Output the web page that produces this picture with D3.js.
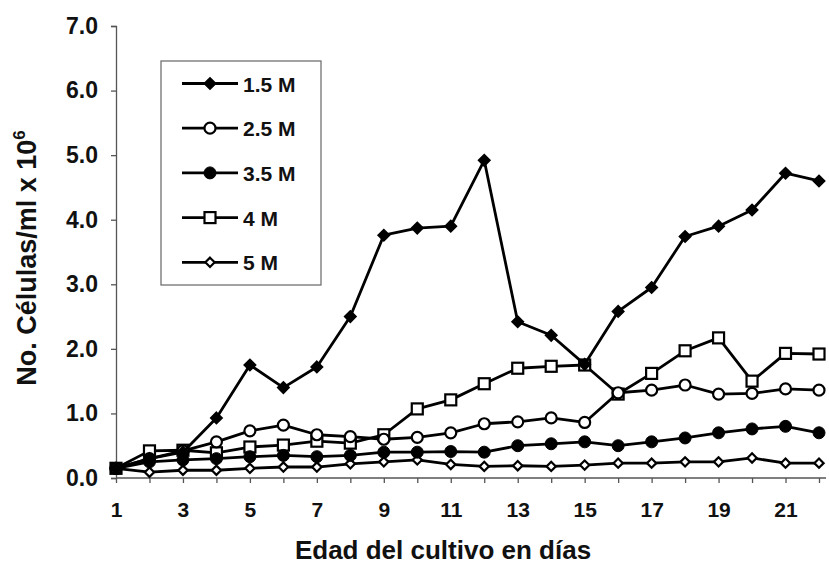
<!DOCTYPE html>
<html>
<head>
<meta charset="utf-8">
<script src="https://cdn.jsdelivr.net/npm/d3@7"></script>
<style>
  body { margin: 0; background: #fff; }
  svg { font-family: "Liberation Sans", Arial, sans-serif; }
</style>
</head>
<body>
<svg id="chart"></svg>
<script>
var width = 829;
var height = 567;
var margin = { top: 26, right: 3, bottom: 89, left: 116 };

// days of culture
var days = d3.range(1, 23);
var xTickLabels = [1, 3, 5, 7, 9, 11, 13, 15, 17, 19, 21];
var yTickLabels = [0, 1, 2, 3, 4, 5, 6, 7];

var seriesNames = ["1.5 M", "2.5 M", "3.5 M", "4 M", "5 M"];

// cells/ml x 10^6
var m15 = [0.15, 0.30, 0.40, 0.93, 1.75, 1.40, 1.72, 2.50, 3.76, 3.87, 3.90, 4.92, 2.42, 2.21, 1.76, 2.58, 2.95, 3.74, 3.90, 4.15, 4.72, 4.60];
var m25 = [0.15, 0.30, 0.42, 0.56, 0.73, 0.82, 0.67, 0.64, 0.60, 0.63, 0.70, 0.84, 0.87, 0.93, 0.86, 1.32, 1.36, 1.44, 1.30, 1.31, 1.38, 1.36];
var m35 = [0.15, 0.25, 0.28, 0.30, 0.33, 0.35, 0.33, 0.35, 0.40, 0.40, 0.41, 0.40, 0.50, 0.53, 0.56, 0.50, 0.56, 0.62, 0.70, 0.76, 0.80, 0.70];
var m4 = [0.15, 0.42, 0.43, 0.39, 0.48, 0.51, 0.57, 0.54, 0.67, 1.07, 1.21, 1.46, 1.70, 1.73, 1.75, 1.30, 1.62, 1.97, 2.17, 1.50, 1.93, 1.92];
var m5 = [0.15, 0.09, 0.12, 0.12, 0.15, 0.17, 0.17, 0.22, 0.25, 0.28, 0.21, 0.18, 0.19, 0.18, 0.20, 0.23, 0.23, 0.25, 0.25, 0.31, 0.23, 0.23];

var seriesValues = [m15, m25, m35, m4, m5];

var svg = d3.select("#chart")
  .attr("width", width)
  .attr("height", height);

var x = d3.scaleLinear()
  .domain([1, 22])
  .range([margin.left, width - margin.right - 7]);

var y = d3.scaleLinear()
  .domain([0, 7])
  .range([height - margin.bottom, margin.top]);

var plotRight = width - margin.right;

// y axis
var yAxis = d3.axisLeft(y)
  .tickValues(yTickLabels)
  .tickSize(5)
  .tickPadding(13)
  .tickFormat(d3.format(".1f"));

var gy = svg.append("g")
  .attr("transform", "translate(" + margin.left + ",0)")
  .call(yAxis);

// x axis
var xAxis = d3.axisBottom(x)
  .tickValues(days)
  .tickSize(5)
  .tickPadding(19)
  .tickFormat(function(d) {
    return xTickLabels.indexOf(d) >= 0 ? d : "";
  });

var gx = svg.append("g")
  .attr("transform", "translate(0," + y(0) + ")")
  .call(xAxis);
gx.select(".domain").attr("d", "M" + margin.left + ",0H" + plotRight);

[gx, gy].forEach(function(g) {
  g.select(".domain").attr("stroke", "#555").attr("stroke-width", 1.3);
  g.selectAll(".tick line").attr("stroke", "#555").attr("stroke-width", 1.3);
  g.selectAll(".tick text")
    .attr("fill", "#111")
    .attr("font-weight", "bold")
    .attr("font-family", "Liberation Sans, Arial, sans-serif");
});
gy.selectAll(".tick text").attr("font-size", 23);
gx.selectAll(".tick text").attr("font-size", 21);

// axis titles
var yTitle = svg.append("text")
  .attr("transform", "translate(36,258) rotate(-90)")
  .attr("text-anchor", "middle")
  .attr("font-size", 27)
  .attr("font-weight", "bold")
  .attr("fill", "#111");
yTitle.append("tspan").text("No. Células/ml x 10");
yTitle.append("tspan").attr("dy", -11).attr("font-size", 17).text("6");

svg.append("text")
  .attr("x", 443)
  .attr("y", 559)
  .attr("text-anchor", "middle")
  .attr("font-size", 26)
  .attr("font-weight", "bold")
  .attr("fill", "#111")
  .text("Edad del cultivo en días");

// markers
function drawMarker(sel, idx) {
  if (idx === 0) {
    sel.append("path").attr("d", d3.symbol().type(d3.symbolDiamond2).size(85))
      .attr("fill", "#000").attr("stroke", "#000").attr("stroke-width", 1.5);
  } else if (idx === 1) {
    sel.append("circle").attr("r", 5.5)
      .attr("fill", "#fff").attr("stroke", "#000").attr("stroke-width", 2.2);
  } else if (idx === 2) {
    sel.append("circle").attr("r", 6)
      .attr("fill", "#000").attr("stroke", "#000").attr("stroke-width", 1);
  } else if (idx === 3) {
    sel.append("rect").attr("x", -5.5).attr("y", -5.5).attr("width", 11).attr("height", 11)
      .attr("fill", "#fff").attr("stroke", "#000").attr("stroke-width", 2.2);
  } else {
    sel.append("path").attr("d", d3.symbol().type(d3.symbolDiamond2).size(55))
      .attr("fill", "#fff").attr("stroke", "#000").attr("stroke-width", 2.2);
  }
}

var line = d3.line()
  .x(function(d, i) { return x(days[i]); })
  .y(function(d) { return y(d); });

var plot = svg.append("g");

// draw from last to first so 1.5 M sits on top
for (var s = seriesValues.length - 1; s >= 0; s--) {
  var vals = seriesValues[s];
  var g = plot.append("g");
  g.append("path")
    .attr("d", line(vals))
    .attr("fill", "none")
    .attr("stroke", "#000")
    .attr("stroke-width", 2.8)
    .attr("stroke-linejoin", "round");
  g.selectAll(".pt")
    .data(vals)
    .enter().append("g")
    .attr("class", "pt")
    .attr("transform", function(d, i) { return "translate(" + x(days[i]) + "," + y(d) + ")"; })
    .each(function() { drawMarker(d3.select(this), s); });
}

// legend
var legend = svg.append("g");
legend.append("rect")
  .attr("x", 161).attr("y", 61)
  .attr("width", 160).attr("height", 224)
  .attr("fill", "#fff")
  .attr("stroke", "#666")
  .attr("stroke-width", 1.2);

seriesNames.forEach(function(name, i) {
  var ly = 83.5 + i * 44.7;
  var item = legend.append("g");
  item.append("line")
    .attr("x1", 182).attr("x2", 238)
    .attr("y1", ly).attr("y2", ly)
    .attr("stroke", "#000").attr("stroke-width", 2.8);
  var m = item.append("g").attr("transform", "translate(210," + ly + ")");
  drawMarker(m, i);
  item.append("text")
    .attr("x", 243).attr("y", ly + 8)
    .attr("font-size", 21)
    .attr("font-weight", "bold")
    .attr("fill", "#111")
    .text(name);
});
</script>
</body>
</html>
